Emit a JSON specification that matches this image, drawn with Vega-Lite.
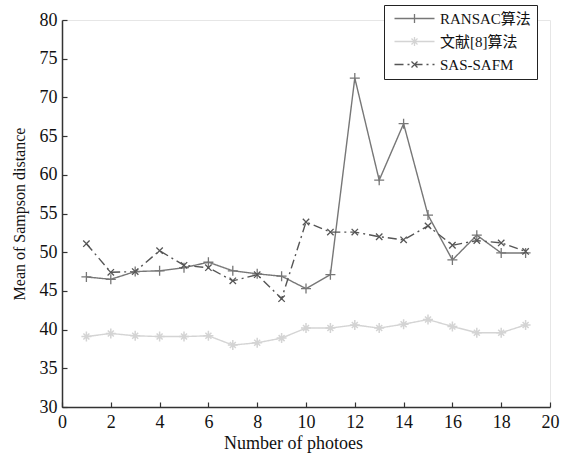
{
  "$schema": "https://vega.github.io/schema/vega-lite/v6.json",
  "width": 488,
  "height": 387,
  "autosize": {"type": "none"},
  "padding": {"left": 62, "top": 20, "right": 13, "bottom": 52},
  "background": "white",
  "config": {
    "view": {"stroke": "#e6e6e6", "strokeWidth": 1},
    "font": "Liberation Serif",
    "axis": {
      "grid": false,
      "domainColor": "#333333",
      "domainWidth": 1.5,
      "tickColor": "#333333",
      "tickSize": -5,
      "tickWidth": 1.2,
      "labelFont": "Liberation Serif",
      "labelFontSize": 18,
      "labelColor": "#111111",
      "titleFont": "Liberation Serif",
      "titleFontWeight": "normal",
      "titleColor": "#111111"
    }
  },
  "data": {
    "values": [
      {"n": 1, "s": "RANSAC算法", "v": 46.8},
      {"n": 2, "s": "RANSAC算法", "v": 46.5},
      {"n": 3, "s": "RANSAC算法", "v": 47.5},
      {"n": 4, "s": "RANSAC算法", "v": 47.6},
      {"n": 5, "s": "RANSAC算法", "v": 48.0},
      {"n": 6, "s": "RANSAC算法", "v": 48.7},
      {"n": 7, "s": "RANSAC算法", "v": 47.6},
      {"n": 8, "s": "RANSAC算法", "v": 47.2},
      {"n": 9, "s": "RANSAC算法", "v": 46.9},
      {"n": 10, "s": "RANSAC算法", "v": 45.3},
      {"n": 11, "s": "RANSAC算法", "v": 47.1},
      {"n": 12, "s": "RANSAC算法", "v": 72.5},
      {"n": 13, "s": "RANSAC算法", "v": 59.3},
      {"n": 14, "s": "RANSAC算法", "v": 66.6},
      {"n": 15, "s": "RANSAC算法", "v": 54.8},
      {"n": 16, "s": "RANSAC算法", "v": 49.0},
      {"n": 17, "s": "RANSAC算法", "v": 52.2},
      {"n": 18, "s": "RANSAC算法", "v": 49.9},
      {"n": 19, "s": "RANSAC算法", "v": 49.9},
      {"n": 1, "s": "文献[8]算法", "v": 39.1},
      {"n": 2, "s": "文献[8]算法", "v": 39.5},
      {"n": 3, "s": "文献[8]算法", "v": 39.2},
      {"n": 4, "s": "文献[8]算法", "v": 39.1},
      {"n": 5, "s": "文献[8]算法", "v": 39.1},
      {"n": 6, "s": "文献[8]算法", "v": 39.2},
      {"n": 7, "s": "文献[8]算法", "v": 38.0},
      {"n": 8, "s": "文献[8]算法", "v": 38.3},
      {"n": 9, "s": "文献[8]算法", "v": 38.9},
      {"n": 10, "s": "文献[8]算法", "v": 40.2},
      {"n": 11, "s": "文献[8]算法", "v": 40.2},
      {"n": 12, "s": "文献[8]算法", "v": 40.6},
      {"n": 13, "s": "文献[8]算法", "v": 40.2},
      {"n": 14, "s": "文献[8]算法", "v": 40.7},
      {"n": 15, "s": "文献[8]算法", "v": 41.3},
      {"n": 16, "s": "文献[8]算法", "v": 40.4},
      {"n": 17, "s": "文献[8]算法", "v": 39.6},
      {"n": 18, "s": "文献[8]算法", "v": 39.6},
      {"n": 19, "s": "文献[8]算法", "v": 40.6},
      {"n": 1, "s": "SAS-SAFM", "v": 51.1},
      {"n": 2, "s": "SAS-SAFM", "v": 47.4},
      {"n": 3, "s": "SAS-SAFM", "v": 47.5},
      {"n": 4, "s": "SAS-SAFM", "v": 50.2},
      {"n": 5, "s": "SAS-SAFM", "v": 48.3},
      {"n": 6, "s": "SAS-SAFM", "v": 48.0},
      {"n": 7, "s": "SAS-SAFM", "v": 46.3},
      {"n": 8, "s": "SAS-SAFM", "v": 47.1},
      {"n": 9, "s": "SAS-SAFM", "v": 44.0},
      {"n": 10, "s": "SAS-SAFM", "v": 53.9},
      {"n": 11, "s": "SAS-SAFM", "v": 52.6},
      {"n": 12, "s": "SAS-SAFM", "v": 52.6},
      {"n": 13, "s": "SAS-SAFM", "v": 52.0},
      {"n": 14, "s": "SAS-SAFM", "v": 51.6},
      {"n": 15, "s": "SAS-SAFM", "v": 53.4},
      {"n": 16, "s": "SAS-SAFM", "v": 50.9},
      {"n": 17, "s": "SAS-SAFM", "v": 51.5},
      {"n": 18, "s": "SAS-SAFM", "v": 51.2},
      {"n": 19, "s": "SAS-SAFM", "v": 50.1}
    ]
  },
  "encoding": {
    "x": {
      "field": "n",
      "type": "quantitative",
      "scale": {"domain": [0, 20], "nice": false},
      "axis": {"values": [0, 2, 4, 6, 8, 10, 12, 14, 16, 18, 20], "title": "Number of photoes", "titleFontSize": 18, "labelPadding": 11, "titleX": 231, "titleY": 27, "titleAnchor": "middle", "labelFlush": false}
    },
    "y": {
      "field": "v",
      "type": "quantitative",
      "scale": {"domain": [30, 80], "nice": false, "zero": false},
      "axis": {"values": [30, 35, 40, 45, 50, 55, 60, 65, 70, 75, 80], "title": "Mean of Sampson distance", "titleFontSize": 16, "labelPadding": 10, "titlePadding": 12, "labelFlush": false}
    }
  },
  "layer": [
    {
      "mark": {"type": "line", "strokeWidth": 1.4},
      "encoding": {
        "strokeDash": {
          "field": "s",
          "type": "nominal",
          "sort": ["RANSAC算法", "文献[8]算法", "SAS-SAFM"],
          "scale": {"domain": ["RANSAC算法", "文献[8]算法", "SAS-SAFM"], "range": [[1, 0], [1, 0], [9, 4, 2, 4]]}
        },
        "color": {
          "field": "s",
          "type": "nominal",
          "sort": ["RANSAC算法", "文献[8]算法", "SAS-SAFM"],
          "scale": {"domain": ["RANSAC算法", "文献[8]算法", "SAS-SAFM"], "range": ["#777777", "#d4d4d4", "#555555"]},
          "legend": {
            "orient": "none",
            "legendX": 322,
            "legendY": -15,
            "title": null,
            "strokeColor": "#222222",
            "fillColor": "white",
            "padding": 6,
            "labelFont": "Liberation Serif, Noto Sans CJK SC",
            "labelFontSize": 15,
            "labelColor": "#111111",
            "symbolSize": 100,
            "symbolOffset": 17,
            "symbolStrokeWidth": 1.3,
            "rowPadding": 7,
            "labelOffset": 18,
            "encode": {
              "symbols": {
                "update": {
                  "shape": {"signal": "datum.value == 'RANSAC算法' ? 'M-4,0L4,0M0,-0.9L0,0.9' : datum.value == 'SAS-SAFM' ? 'M-4,0L4,0M-0.6,-0.6L0.6,0.6M-0.6,0.6L0.6,-0.6' : 'M-4,0L4,0M0,-0.9L0,0.9M-0.6,-0.6L0.6,0.6M-0.6,0.6L0.6,-0.6'"}
                }
              }
            }
          }
        }
      }
    },
    {
      "transform": [{"filter": {"field": "s", "equal": "RANSAC算法"}}],
      "mark": {"type": "point", "filled": false, "size": 100, "strokeWidth": 1.3, "opacity": 1, "color": "#777777", "shape": "M-1,0L1,0M0,-1L0,1"}
    },
    {
      "transform": [{"filter": {"field": "s", "equal": "文献[8]算法"}}],
      "mark": {"type": "point", "filled": false, "size": 100, "strokeWidth": 1.5, "opacity": 1, "color": "#d4d4d4", "shape": "M-1,0L1,0M0,-1L0,1M-0.6,-0.6L0.6,0.6M-0.6,0.6L0.6,-0.6"}
    },
    {
      "transform": [{"filter": {"field": "s", "equal": "SAS-SAFM"}}],
      "mark": {"type": "point", "filled": false, "size": 64, "strokeWidth": 1.3, "opacity": 1, "color": "#555555", "shape": "M-0.8,-0.8L0.8,0.8M-0.8,0.8L0.8,-0.8"}
    }
  ]
}
